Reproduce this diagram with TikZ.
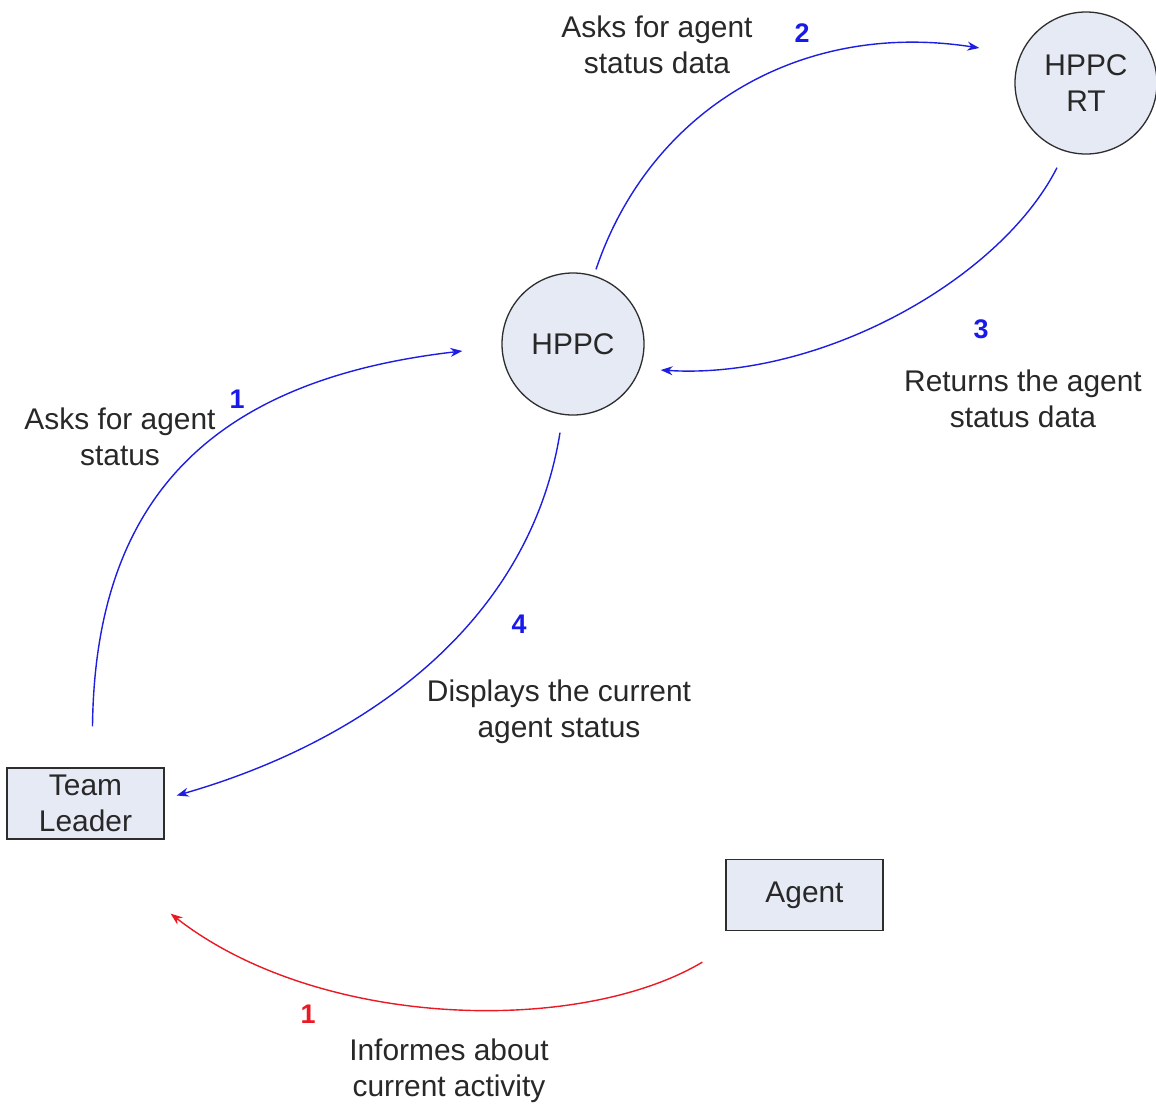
\documentclass[tikz,border=0pt]{standalone}
\usepackage{fontspec}
\setmainfont{Liberation Sans}
\usetikzlibrary{arrows.meta}
\definecolor{boxfill}{RGB}{230,234,245}
\definecolor{edge}{RGB}{45,45,45}
\definecolor{txt}{RGB}{40,40,40}
\definecolor{flow}{RGB}{30,30,225}
\definecolor{numblue}{RGB}{25,25,235}
\definecolor{numred}{RGB}{235,25,35}
\tikzset{
  process/.style={circle, draw=edge, line width=1.3bp, fill=boxfill, minimum size=142bp,
    inner sep=0pt, align=center, text=txt, font=\fontsize{30}{36}\selectfont},
  entity/.style={rectangle, draw=edge, line width=1.3bp, fill=boxfill, minimum width=157bp,
    minimum height=71bp, inner sep=0pt, align=center, text=txt, font=\fontsize{30}{36}\selectfont},
  lbl/.style={align=center, text=txt, font=\fontsize{30}{36}\selectfont, inner sep=0pt},
  num/.style={font=\bfseries\fontsize{27}{30}\selectfont, inner sep=0pt},
  flowline/.style={draw=flow, line width=1.4bp, -{Stealth[length=12bp,width=9bp]}},
  redline/.style={draw=numred, line width=1.4bp, -{Stealth[length=12bp,width=9bp]}}
}
\begin{document}
\begin{tikzpicture}[x=1bp,y=-1bp]
\useasboundingbox[fill=white] (0,0) rectangle (1156,1109);

% stores and processes
\node[process] (hppc) at (573,344) {HPPC};
\node[process] (rt) at (1086,83) {HPPC\\RT};
\node[entity] (tl) at (85.5,803.5) {Team\\Leader};
\node[entity] (agent) at (804.5,895) {Agent};

% data flows
\draw[flowline] ([xshift=7bp,yshift=41bp]tl.north)
  .. controls (95,500) and (210,380) .. ([xshift=-39bp,yshift=-7bp]hppc.west);
\draw[flowline] ([xshift=23bp,yshift=3bp]hppc.north)
  .. controls (650,110) and (800,20) .. ([xshift=-35bp,yshift=35bp]rt.west);
\draw[flowline] ([xshift=-29bp,yshift=-13bp]rt.south)
  .. controls (1000,280) and (820,380) .. ([xshift=16bp,yshift=-26bp]hppc.east);
\draw[flowline] ([xshift=-13bp,yshift=-17bp]hppc.south)
  .. controls (530,620) and (370,740) .. ([xshift=12bp,yshift=8bp]tl.east);
\draw[redline] ([xshift=-23bp,yshift=-31bp]agent.south west)
  .. controls (580,1035) and (320,1030) .. ([xshift=6bp,yshift=-74bp]tl.south east);

% flow labels
\node[lbl] (l2) at (657,45) {Asks for agent\\status data};
\node[num, text=numblue] (n2) at (802,33) {2};
\node[num, text=numblue] (n3) at (981,329) {3};
\node[lbl] (l3) at (1023,399) {Returns the agent\\status data};
\node[num, text=numblue] (n1) at (237,399) {1};
\node[lbl] (l1) at (120,437) {Asks for agent\\status};
\node[num, text=numblue] (n4) at (519,624) {4};
\node[lbl] (l4) at (559,712) {Displays the current\\agent status};
\node[num, text=numred] (r1) at (308,1014) {1};
\node[lbl] (lr) at (449,1071) {Informes about\\current activity};
\end{tikzpicture}
\end{document}
